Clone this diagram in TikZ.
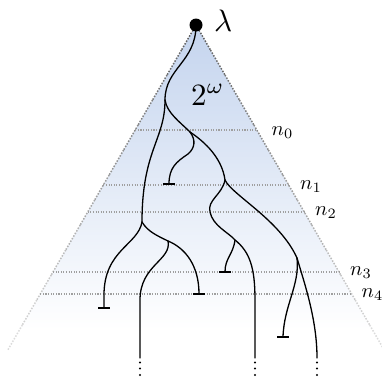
\documentclass[tikz,border=0pt]{standalone}
\definecolor{tritop}{RGB}{196,212,238}
\begin{document}
\begin{tikzpicture}[x=1pt,y=-1pt,
  branch/.style={line width=1.3pt, line cap=round},
  stopbar/.style={line width=1.3pt},
  levelline/.style={gray!75, line width=1.1pt, dash pattern=on 1.1pt off 1.5pt},
  triedge/.style={line width=1.5pt, dash pattern=on 1.5pt off 1.5pt},
  biglab/.style={inner sep=0pt, anchor=base west},
  nlab/.style={inner sep=0pt, anchor=base west}
]
\useasboundingbox (0,0) rectangle (382,378);
% triangle fill
\shade[top color=tritop, bottom color=white] (196,25) -- ({196-0.579*305},330) -- ({196+0.579*305},330) -- cycle;
% triangle edges, fading downwards
\begin{scope}
  \clip (0,0) rectangle (382,378);
  \foreach \i in {0,...,12}{
    \pgfmathsetmacro{\ya}{25+25*\i}
    \pgfmathsetmacro{\yb}{50+25*\i}
    \pgfmathtruncatemacro{\edgeshade}{62-4*\i}
    \draw[triedge, color=black!\edgeshade] ({196-0.579*(\ya-25)},\ya) -- ({196-0.579*(\yb-25)},\yb);
    \draw[triedge, color=black!\edgeshade] ({196+0.579*(\ya-25)},\ya) -- ({196+0.579*(\yb-25)},\yb);
  }
\end{scope}
% levels
\foreach \yy in {130,185,212,272,294}{
  \draw[levelline] ({196-0.579*(\yy-25)},\yy) -- ({196+0.579*(\yy-25)},\yy);
}
% branch points
\coordinate (R) at (196,25);
\coordinate (A) at (165,100);
\coordinate (B) at (142,222);
\coordinate (C) at (190,132);
\coordinate (C1) at (188,154);
\coordinate (D) at (225,180);
\coordinate (D1) at (210,212);
\coordinate (E) at (235,240);
\coordinate (F) at (297,258);
\coordinate (G) at (168,241);
% ends
\coordinate (t1) at (169,184);
\coordinate (t2) at (225,272);
\coordinate (t3) at (199,294);
\coordinate (t4) at (104,308);
\coordinate (t5) at (283,337);
\coordinate (e1) at (140,358);
\coordinate (e2) at (255,358);
\coordinate (e3) at (317,358);
% tree
\draw[branch] (R) .. controls (196,62) and (165,68) .. (A);
\draw[branch] (A) .. controls (165,140) and (142,150) .. (B);
\draw[branch] (B) .. controls (138,245) and (104,250) .. (104,295) -- (t4);
\draw[branch] (B) .. controls (148,232) and (158,236) .. (G);
\draw[branch] (G) .. controls (185,248) and (199,265) .. (t3);
\draw[branch] (G) .. controls (172,260) and (140,265) .. (140,300) -- (e1);
\draw[branch] (A) .. controls (167,113) and (180,122) .. (C);
\draw[branch] (C) .. controls (196,140) and (195,148) .. (C1) .. controls (176,162) and (169,168) .. (t1);
\draw[branch] (C) .. controls (205,142) and (222,158) .. (D);
\draw[branch] (D) .. controls (222,195) and (207,200) .. (D1) .. controls (213,226) and (228,232) .. (E);
\draw[branch] (E) .. controls (233,255) and (225,258) .. (t2);
\draw[branch] (E) .. controls (250,252) and (255,268) .. (255,300) -- (e2);
\draw[branch] (D) .. controls (232,195) and (280,220) .. (F);
\draw[branch] (F) .. controls (305,285) and (317,320) .. (e3);
\draw[branch] (F) .. controls (300,285) and (284,305) .. (t5);
% stop bars
\foreach \t in {t1,t2,t3,t4,t5}{
  \draw[stopbar] (\t) ++(-6,0) -- ++(12,0);
}
% continuation dots
\foreach \e in {e1,e2,e3}{
  \foreach \d in {4.5,10.5,17}{
    \fill (\e) ++(0,\d) circle[radius=1.1pt];
  }
}
% root
\node[circle, fill=black, minimum size=13pt, inner sep=0pt] (root) at (R) {};
% labels
\node[biglab] (lam) at (214,31.5) {\scalebox{3.1}{$\lambda$}};
\node[biglab] (two) at (191,105) {\scalebox{3.1}{$2^{\omega}$}};
\node[nlab] (n0) at (271.5,135.5) {\scalebox{2.05}{$n_0$}};
\node[nlab] (n1) at (300,189) {\scalebox{2.05}{$n_1$}};
\node[nlab] (n2) at (315,215.5) {\scalebox{2.05}{$n_2$}};
\node[nlab] (n3) at (350,275) {\scalebox{2.05}{$n_3$}};
\node[nlab] (n4) at (361.5,297.5) {\scalebox{2.05}{$n_4$}};
\end{tikzpicture}
\end{document}
